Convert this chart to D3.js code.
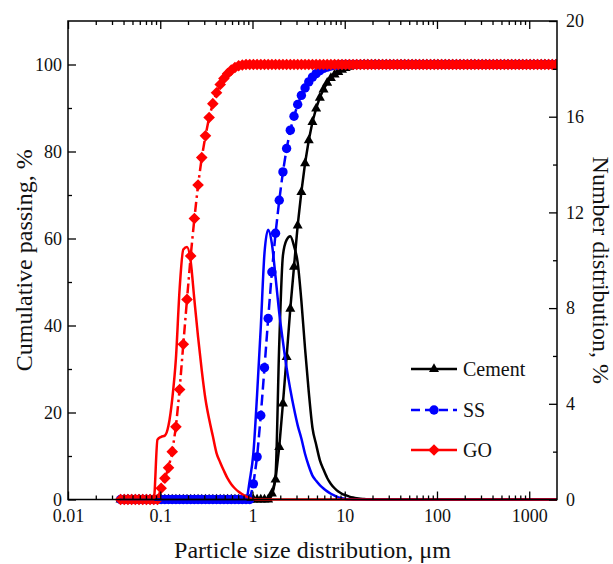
<!DOCTYPE html>
<html>
<head>
<meta charset="utf-8">
<script src="https://cdn.jsdelivr.net/npm/d3@7"></script>
<style>
  html, body { margin: 0; padding: 0; background: #fff; }
  svg { display: block; }
</style>
</head>
<body>
<svg id="chart" width="613" height="564"></svg>
<script>
// ---------------- DATA ----------------
// particle size bins (µm)
const sizes = [
  0.03715, 0.04074, 0.04467, 0.04898, 0.0537, 0.05888, 0.06457, 0.07079, 0.07762, 0.08511,
  0.09333, 0.1023, 0.1122, 0.123, 0.1349, 0.1479, 0.1622, 0.1778, 0.195, 0.2138,
  0.2344, 0.257, 0.2818, 0.309, 0.3388, 0.3715, 0.4074, 0.4467, 0.4898, 0.537,
  0.5888, 0.6457, 0.7079, 0.7762, 0.8511, 0.9333, 1.023, 1.122, 1.23, 1.349,
  1.479, 1.622, 1.778, 1.95, 2.138, 2.344, 2.57, 2.818, 3.09, 3.388,
  3.715, 4.074, 4.467, 4.898, 5.37, 5.888, 6.457, 7.079, 7.762, 8.511,
  9.333, 10.23, 11.22, 12.3, 13.49, 14.79, 16.22, 17.78, 19.5, 21.38,
  23.44, 25.7, 28.18, 30.9, 33.88, 37.15, 40.74, 44.67, 48.98, 53.7,
  58.88, 64.57, 70.79, 77.62, 85.11, 93.33, 102.3, 112.2, 123, 134.9,
  147.9, 162.2, 177.8, 195, 213.8, 234.4, 257, 281.8, 309, 338.8,
  371.5, 407.4, 446.7, 489.8, 537, 588.8, 645.7, 707.9, 776.2, 851.1,
  933.3, 1023, 1122, 1230, 1349, 1479, 1622, 1778, 1950, 2138
];

// Cumulative passing, % (left axis)
const cementCum = [
  0, 0, 0, 0, 0, 0, 0, 0, 0, 0,
  0, 0, 0, 0, 0, 0, 0, 0, 0, 0,
  0, 0, 0, 0, 0, 0, 0, 0, 0, 0,
  0, 0, 0, 0, 0, 0, 0, 0, 0, 0,
  0, 1.4, 4.6, 12.1, 22.1, 32.8, 43.9, 53.5, 63, 70.7,
  77.3, 82.6, 86.8, 89.9, 92.4, 94.3, 95.8, 96.9, 97.7, 98.3,
  98.8, 99.2, 99.5, 99.7, 99.85, 99.95, 100, 100, 100, 100,
  100, 100, 100, 100, 100, 100, 100, 100, 100, 100,
  100, 100, 100, 100, 100, 100, 100, 100, 100, 100,
  100, 100, 100, 100, 100, 100, 100, 100, 100, 100,
  100, 100, 100, 100, 100, 100, 100, 100, 100, 100,
  100, 100, 100, 100, 100, 100, 100, 100, 100, 100
];
const ssCum = [
  0, 0, 0, 0, 0, 0, 0, 0, 0, 0,
  0, 0, 0, 0, 0, 0, 0, 0, 0, 0,
  0, 0, 0, 0, 0, 0, 0, 0, 0, 0,
  0, 0, 0, 0, 0, 0, 3.6, 9.8, 19.3, 30.3,
  41.6, 52.3, 61.2, 68.8, 75.3, 80.7, 84.9, 88.1, 90.8, 92.9,
  94.6, 96, 97.1, 97.9, 98.6, 99.1, 99.4, 99.65, 99.8, 99.9,
  100, 100, 100, 100, 100, 100, 100, 100, 100, 100,
  100, 100, 100, 100, 100, 100, 100, 100, 100, 100,
  100, 100, 100, 100, 100, 100, 100, 100, 100, 100,
  100, 100, 100, 100, 100, 100, 100, 100, 100, 100,
  100, 100, 100, 100, 100, 100, 100, 100, 100, 100,
  100, 100, 100, 100, 100, 100, 100, 100, 100, 100
];
const goCum = [
  0, 0, 0, 0, 0, 0, 0, 0, 0, 0,
  0, 2.6, 4.9, 7.3, 11, 16.7, 25.3, 35.7, 46, 56,
  64.6, 72.3, 78.6, 83.6, 87.8, 91, 93.5, 95.4, 96.8, 97.9,
  98.7, 99.3, 99.7, 99.9, 100, 100, 100, 100, 100, 100,
  100, 100, 100, 100, 100, 100, 100, 100, 100, 100,
  100, 100, 100, 100, 100, 100, 100, 100, 100, 100,
  100, 100, 100, 100, 100, 100, 100, 100, 100, 100,
  100, 100, 100, 100, 100, 100, 100, 100, 100, 100,
  100, 100, 100, 100, 100, 100, 100, 100, 100, 100,
  100, 100, 100, 100, 100, 100, 100, 100, 100, 100,
  100, 100, 100, 100, 100, 100, 100, 100, 100, 100,
  100, 100, 100, 100, 100, 100, 100, 100, 100, 100
];

// Number distribution, % (right axis)
const cementNum = [
  0, 0, 0, 0, 0, 0, 0, 0, 0, 0,
  0, 0, 0, 0, 0, 0, 0, 0, 0, 0,
  0, 0, 0, 0, 0, 0, 0, 0, 0, 0,
  0, 0, 0, 0, 0, 0, 0, 0, 0, 0,
  0, 0.2, 1.0, 6.5, 10.2, 10.85, 11.0, 10.6, 9.9, 8.3,
  6.3, 4.5, 3.0, 2.3, 1.65, 1.25, 0.9, 0.65, 0.47, 0.33,
  0.24, 0.18, 0.12, 0.08, 0.05, 0.03, 0.02, 0.01, 0, 0,
  0, 0, 0, 0, 0, 0, 0, 0, 0, 0,
  0, 0, 0, 0, 0, 0, 0, 0, 0, 0,
  0, 0, 0, 0, 0, 0, 0, 0, 0, 0,
  0, 0, 0, 0, 0, 0, 0, 0, 0, 0,
  0, 0, 0, 0, 0, 0, 0, 0, 0, 0
];
const ssNum = [
  0, 0, 0, 0, 0, 0, 0, 0, 0, 0,
  0, 0, 0, 0, 0, 0, 0, 0, 0, 0,
  0, 0, 0, 0, 0, 0, 0, 0, 0, 0,
  0, 0, 0, 0, 0, 0.8, 1.95, 4.4, 7.2, 10.3,
  11.28, 10.7, 9.3, 7.8, 6.6, 5.5, 4.6, 3.8, 3.1, 2.55,
  1.9, 1.4, 1.0, 0.78, 0.6, 0.46, 0.34, 0.24, 0.16, 0.09,
  0.05, 0.02, 0.01, 0, 0, 0, 0, 0, 0, 0,
  0, 0, 0, 0, 0, 0, 0, 0, 0, 0,
  0, 0, 0, 0, 0, 0, 0, 0, 0, 0,
  0, 0, 0, 0, 0, 0, 0, 0, 0, 0,
  0, 0, 0, 0, 0, 0, 0, 0, 0, 0,
  0, 0, 0, 0, 0, 0, 0, 0, 0, 0
];
const goNum = [
  0, 0, 0, 0, 0, 0, 0, 0, 0, 0,
  2.5, 2.62, 2.67, 3.1, 4.2, 5.9, 8.8, 10.45, 10.55, 9.95,
  8.35, 6.8, 5.4, 4.2, 3.36, 2.65, 1.94, 1.55, 1.2, 0.88,
  0.64, 0.46, 0.32, 0.22, 0.13, 0.06, 0.02, 0, 0, 0,
  0, 0, 0, 0, 0, 0, 0, 0, 0, 0,
  0, 0, 0, 0, 0, 0, 0, 0, 0, 0,
  0, 0, 0, 0, 0, 0, 0, 0, 0, 0,
  0, 0, 0, 0, 0, 0, 0, 0, 0, 0,
  0, 0, 0, 0, 0, 0, 0, 0, 0, 0,
  0, 0, 0, 0, 0, 0, 0, 0, 0, 0,
  0, 0, 0, 0, 0, 0, 0, 0, 0, 0,
  0, 0, 0, 0, 0, 0, 0, 0, 0, 0
];

const seriesNames = ["Cement", "SS", "GO"];
const seriesColors = ["#000000", "#0000ff", "#ff0000"];
const xTickValues = [0.01, 0.1, 1, 10, 100, 1000];
const xTickLabels = ["0.01", "0.1", "1", "10", "100", "1000"];
const yLeftTicks = [0, 20, 40, 60, 80, 100];
const yRightTicks = [0, 4, 8, 12, 16, 20];

// ---------------- LAYOUT ----------------
const FONT = "Liberation Serif";
const TICK_FS = 18;
const TITLE_FS = 24;
const M = { left: 68, top: 21, right: 557, bottom: 499.5 };
const svg = d3.select("#chart");

const x = d3.scaleLog().domain([0.01, 2000]).range([M.left, M.right]);
const yL = d3.scaleLinear().domain([0, 110]).range([M.bottom, M.top]);
const yR = d3.scaleLinear().domain([0, 20]).range([M.bottom, M.top]);

svg.append("defs").append("clipPath").attr("id", "plotclip")
  .append("rect").attr("x", M.left).attr("y", M.top - 10)
  .attr("width", M.right - M.left).attr("height", M.bottom - M.top + 20);

const styles = [
  { dash: null, legendDash: null, marker: "triangle" },
  { dash: "11,5", legendDash: "9,5", marker: "circle" },
  { dash: "10,4,2.5,4", legendDash: null, marker: "diamond" }
];

function markerPath(type) {
  if (type === "triangle") return "M0,-5.8L5,3.1L-5,3.1Z";
  if (type === "diamond") return "M0,-5.8L5.8,0L0,5.8L-5.8,0Z";
  return d3.symbol().type(d3.symbolCircle).size(Math.PI * 4.7 * 4.7)();
}

const cumData = [cementCum, ssCum, goCum];
const numData = [cementNum, ssNum, goNum];

const plot = svg.append("g").attr("clip-path", "url(#plotclip)");

// cumulative curves (lines + markers)
cumData.forEach((vals, i) => {
  const pts = sizes.map((s, j) => [s, vals[j]]);
  const line = d3.line().x(d => x(d[0])).y(d => yL(d[1]));
  plot.append("path").datum(pts)
    .attr("d", line)
    .attr("fill", "none")
    .attr("stroke", seriesColors[i])
    .attr("stroke-width", 2.5)
    .attr("stroke-dasharray", styles[i].dash);
  plot.append("g").selectAll("path").data(pts).join("path")
    .attr("transform", d => `translate(${x(d[0])},${yL(d[1])})`)
    .attr("d", markerPath(styles[i].marker))
    .attr("fill", seriesColors[i]);
});

// number distribution curves (solid lines)
numData.forEach((vals, i) => {
  const pts = sizes.map((s, j) => [s, vals[j]]);
  const line = d3.line().x(d => x(d[0])).y(d => yR(d[1])).curve(d3.curveMonotoneX);
  plot.append("path").datum(pts)
    .attr("d", line)
    .attr("fill", "none")
    .attr("stroke", seriesColors[i])
    .attr("stroke-width", 2.5);
});

// ---------------- AXES ----------------
const minorX = [];
for (let e = -2; e <= 3; e++) for (let m = 2; m <= 9; m++) {
  const v = m * Math.pow(10, e);
  if (v < 2000) minorX.push(v);
}

function styleAxis(g) {
  g.attr("font-family", FONT).attr("font-size", TICK_FS);
  g.select(".domain").remove();
  g.selectAll(".tick line").attr("stroke", "#000").attr("stroke-width", 1.3);
  g.selectAll("text").attr("font-family", FONT).attr("font-size", TICK_FS).attr("fill", "#111");
}

// bottom
svg.append("g").attr("transform", `translate(0,${M.bottom})`)
  .call(d3.axisBottom(x).tickValues(xTickValues).tickFormat((d, i) => xTickLabels[i]).tickSize(-8).tickPadding(10))
  .call(styleAxis);
svg.append("g").attr("transform", `translate(0,${M.bottom})`)
  .call(d3.axisBottom(x).tickValues(minorX).tickFormat("").tickSize(-4))
  .call(styleAxis);
// top
svg.append("g").attr("transform", `translate(0,${M.top})`)
  .call(d3.axisTop(x).tickValues(xTickValues).tickFormat("").tickSize(-8))
  .call(styleAxis);
svg.append("g").attr("transform", `translate(0,${M.top})`)
  .call(d3.axisTop(x).tickValues(minorX).tickFormat("").tickSize(-4))
  .call(styleAxis);
// left
svg.append("g").attr("transform", `translate(${M.left},0)`)
  .call(d3.axisLeft(yL).tickValues(yLeftTicks).tickFormat(d3.format("d")).tickSize(-8).tickPadding(6))
  .call(styleAxis);
svg.append("g").attr("transform", `translate(${M.left},0)`)
  .call(d3.axisLeft(yL).tickValues([10, 30, 50, 70, 90]).tickFormat("").tickSize(-4))
  .call(styleAxis);
// right
svg.append("g").attr("transform", `translate(${M.right},0)`)
  .call(d3.axisRight(yR).tickValues(yRightTicks).tickFormat(d3.format("d")).tickSize(-8).tickPadding(9))
  .call(styleAxis);
svg.append("g").attr("transform", `translate(${M.right},0)`)
  .call(d3.axisRight(yR).tickValues([2, 6, 10, 14, 18]).tickFormat("").tickSize(-4))
  .call(styleAxis);

// frame
svg.append("rect")
  .attr("x", M.left).attr("y", M.top)
  .attr("width", M.right - M.left).attr("height", M.bottom - M.top)
  .attr("fill", "none").attr("stroke", "#000").attr("stroke-width", 1.5);

// titles
svg.append("text")
  .attr("x", (M.left + M.right) / 2 + 0).attr("y", 558)
  .attr("text-anchor", "middle").attr("font-size", TITLE_FS).attr("font-family", FONT).attr("fill", "#111")
  .text("Particle size distribution, μm");
svg.append("text")
  .attr("transform", `translate(32,${(M.top + M.bottom) / 2}) rotate(-90)`)
  .attr("text-anchor", "middle").attr("font-size", TITLE_FS).attr("font-family", FONT).attr("fill", "#111")
  .text("Cumulative passing, %");
svg.append("text")
  .attr("transform", `translate(593,${(M.top + M.bottom) / 2 + 10}) rotate(90)`)
  .attr("text-anchor", "middle").attr("font-size", TITLE_FS).attr("font-family", FONT).attr("fill", "#111")
  .text("Number distribution, %");

// legend
const legendY = [369, 410, 450];
const lg = svg.append("g");
seriesNames.forEach((name, i) => {
  const g = lg.append("g").attr("transform", `translate(0,${legendY[i]})`);
  g.append("line").attr("x1", 411).attr("x2", 457).attr("y1", 0).attr("y2", 0)
    .attr("stroke", seriesColors[i]).attr("stroke-width", 2.5)
    .attr("stroke-dasharray", styles[i].legendDash);
  g.append("path").attr("transform", "translate(434,0)")
    .attr("d", markerPath(styles[i].marker)).attr("fill", seriesColors[i]);
  g.append("text").attr("x", 463).attr("y", 7).attr("font-size", 20).attr("font-family", FONT).attr("fill", "#111").text(name);
});
</script>
</body>
</html>
